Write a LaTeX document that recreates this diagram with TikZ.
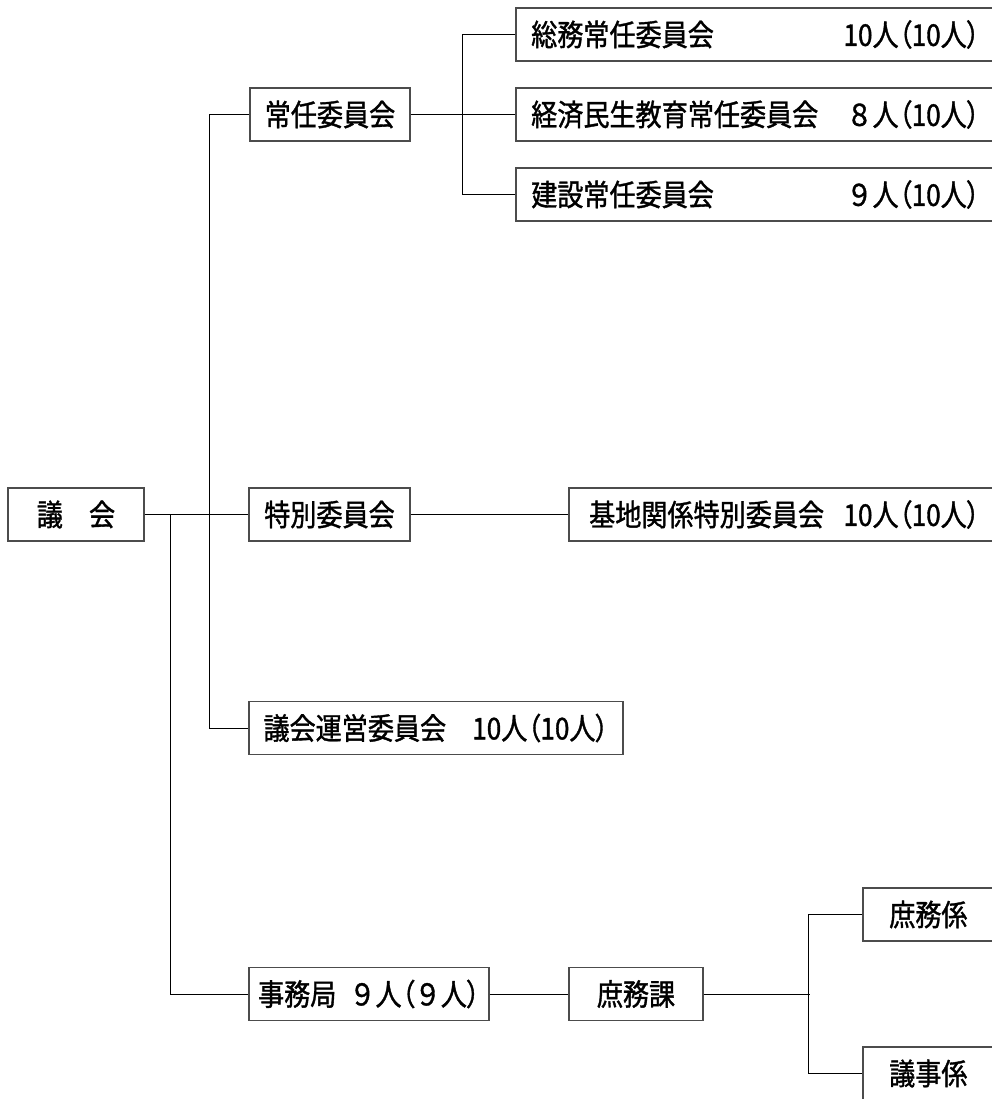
\documentclass[tikz,border=0pt]{standalone}
\usepackage{fontspec}
\usetikzlibrary{calc}
\newfontfamily\jp[FakeBold=1.2,FakeStretch=0.87]{Noto Sans CJK JP}
\newfontfamily\jpp[RawFeature=+palt,FakeBold=1.2,FakeStretch=0.87]{Noto Sans CJK JP}
\tikzset{
  box/.style={draw=black!70, line width=1.2pt, fill=white, inner sep=0pt,
    minimum height=53pt, font=\jp\fontsize{30}{34}\selectfont},
  lbl/.style={inner sep=0pt, font=\jp\fontsize{30}{34}\selectfont},
  conn/.style={draw=black, line width=1pt}
}
\begin{document}
\begin{tikzpicture}[x=1pt,y=-1pt]
\clip (0,0) rectangle (992,1099);
% boxes
\node[box, minimum width=136pt] (gikai) at (76,514.5) {議　会};
\node[box, minimum width=160pt] (jonin) at (330,114.5) {常任委員会};
\node[box, minimum width=161pt] (tokubetsu) at (329.5,514.5) {特別委員会};
\node[box, minimum width=374pt] (unei) at (436,728) {議会運営委員会　{\jpp 10人（10人）}};
\node[box, minimum width=240pt] (jimu) at (369,994) {事務局\hspace{13pt}９人{\jpp （}９人{\jpp ）}};
\node[box, minimum width=134pt] (shomuka) at (636,994) {庶務課};
\node[box, minimum width=500pt] (soumu) at (766,34.5) {};
\node[box, minimum width=500pt] (keizai) at (766,114.5) {};
\node[box, minimum width=500pt] (kensetsu) at (766,194.5) {};
\node[box, minimum width=450pt] (kichi) at (794,514.5) {};
\node[box, minimum width=160pt] (shomugakari) at (943,914.5) {};
\node[box, minimum width=160pt] (gijigakari) at (943,1073.5) {};
% texts in clipped boxes
\node[lbl, anchor=east] (n1) at (980,34.5) {\jpp 10人（10人）};
\node[lbl, anchor=west] (t1) at (531,34.5) {総務常任委員会};
\node[lbl, anchor=west] (t2) at (531,114.5) {経済民生教育常任委員会};
\node[lbl, anchor=east] (n2) at (980,114.5) {８人{\jpp （10人）}};
\node[lbl, anchor=west] (t3) at (531,194.5) {建設常任委員会};
\node[lbl, anchor=east] (n3) at (980,194.5) {９人{\jpp （10人）}};
\node[lbl, anchor=west] (t4) at (589,514.5) {基地関係特別委員会};
\node[lbl, anchor=east] (n4) at (980,514.5) {\jpp 10人（10人）};
\node[lbl, anchor=west] (t5) at (889,914.5) {庶務係};
\node[lbl, anchor=west] (t6) at (889,1073.5) {議事係};
% connectors
\draw[conn] (gikai.east) -- (tokubetsu.west);
\draw[conn] ($(gikai.east)+(26,0)$) |- (jimu.west);
\draw[conn] (jonin.west) -- ++(-40,0) |- (unei.west);
\draw[conn] (jonin.east) -- (keizai.west);
\draw[conn] (soumu.west) -- ++(-53,0) |- (kensetsu.west);
\draw[conn] (tokubetsu.east) -- (kichi.west);
\draw[conn] (jimu.east) -- (shomuka.west);
\draw[conn] (shomuka.east) -- ++(106,0) coordinate (dmid);
\draw[conn] (shomugakari.west) -- ++(-54,0) |- (gijigakari.west);
\end{tikzpicture}
\end{document}
